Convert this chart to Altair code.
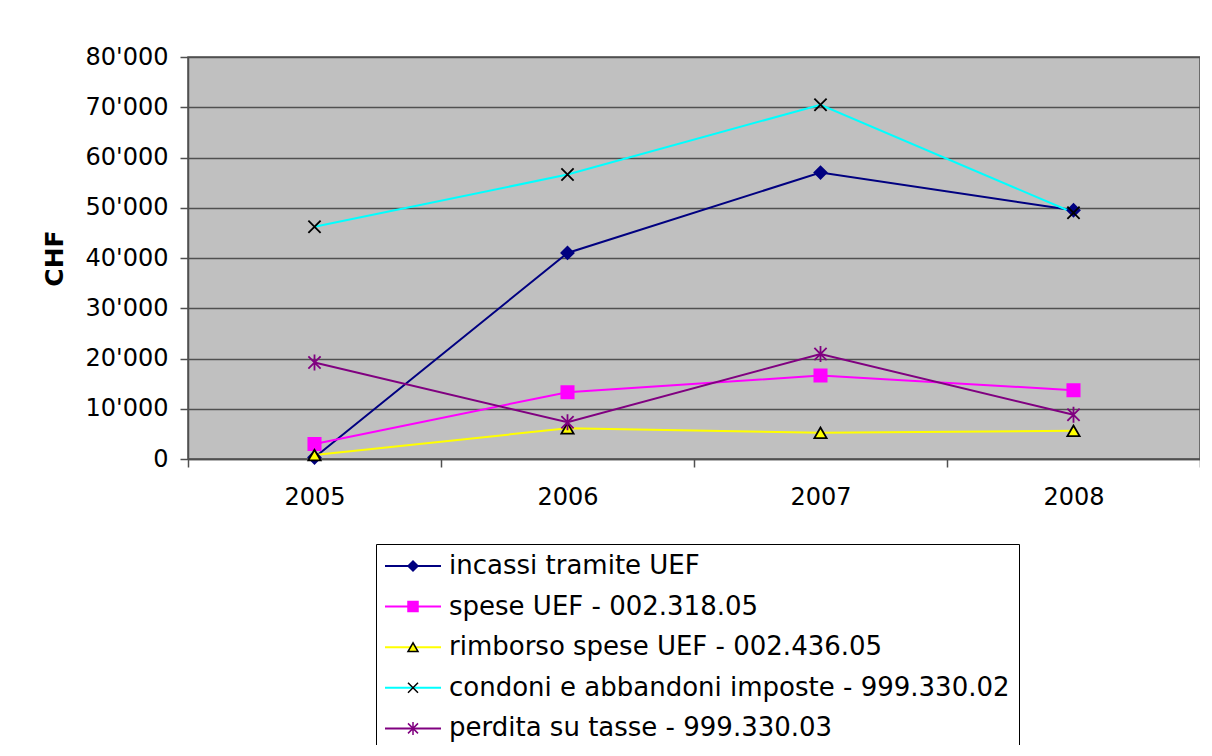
import altair as alt
import pandas as pd

years = ["2005", "2006", "2007", "2008"]
series_names = [
    "incassi tramite UEF",
    "spese UEF - 002.318.05",
    "rimborso spese UEF - 002.436.05",
    "condoni e abbandoni imposte - 999.330.02",
    "perdita su tasse - 999.330.03",
]
incassi = [300, 41000, 57000, 49500]
spese = [3000, 13300, 16600, 13700]
rimborso = [800, 6100, 5200, 5600]
condoni = [46200, 56600, 70500, 49000]
perdita = [19200, 7300, 20900, 8800]

line_colors = ["#000080", "#FF00FF", "#FFFF00", "#00FFFF", "#800080"]
marker_fill = ["#000080", "#FF00FF", "#FFFF00", "transparent", "transparent"]
marker_stroke = ["#000080", "#FF00FF", "#000000", "#000000", "#800080"]
marker_shapes = [
    "diamond",
    "square",
    "triangle-up",
    "M-1,-1L1,1M-1,1L1,-1",
    "M-1,-1L1,1M-1,1L1,-1M0,-1.3L0,1.3",
]

rows = []
for name, vals in zip(series_names, [incassi, spese, rimborso, condoni, perdita]):
    for y, v in zip(years, vals):
        rows.append({"year": y, "value": v, "series": name, "marker": name})
df = pd.DataFrame(rows)

FONT = "DejaVu Sans"
GRID = "#505050"

x_enc = alt.X(
    "year:O",
    bandPosition=0.5,
    scale=alt.Scale(type="band", paddingInner=0, paddingOuter=0, domain=years),
    axis=alt.Axis(
        title=None, labelAngle=0, tickBand="extent", grid=False,
        labelFont=FONT, labelFontSize=24, labelColor="black", labelPadding=18,
        tickSize=8, tickColor=GRID, tickWidth=1.5, domainColor=GRID, domainWidth=1.5,
    ),
)
y_enc = alt.Y(
    "value:Q",
    scale=alt.Scale(domain=[0, 80000], nice=False),
    axis=alt.Axis(
        title="CHF", values=list(range(0, 80001, 10000)),
        labelExpr="replace(format(datum.value, ','), ',', \"'\")",
        labelFont=FONT, labelFontSize=24, labelColor="black", labelPadding=12,
        titleFont=FONT, titleFontSize=25, titleFontWeight="bold", titleColor="black",
        titlePadding=18,
        tickSize=8, tickColor=GRID, tickWidth=1.5, domainColor=GRID, domainWidth=1.5,
        grid=True, gridColor=GRID, gridWidth=1.5, gridOpacity=1,
    ),
)

LEG_X = 188
LEG_Y = 487
common_leg = dict(
    orient="none", legendX=LEG_X, legendY=LEG_Y, padding=9,
    symbolSize=100, symbolOffset=15, labelOffset=23,
    labelFont=FONT, labelFontSize=26, rowPadding=14.6, labelLimit=800,
)

leg_lines = alt.Legend(
    symbolType="M-5.6,0H5.6", symbolStrokeWidth=2, labelColor="transparent",
    **common_leg,
)
leg_marks = alt.Legend(
    symbolStrokeWidth=1.5, symbolOpacity=1, labelColor="black",
    strokeColor="black", zindex=2, **common_leg,
)

lines = alt.Chart(df).mark_line(strokeWidth=2).encode(
    x=x_enc,
    y=y_enc,
    color=alt.Color("series:N", title=None,
                    scale=alt.Scale(domain=series_names, range=line_colors),
                    legend=leg_lines),
    detail="series:N",
)

points = alt.Chart(df).mark_point(size=150, opacity=1, strokeWidth=1.8).encode(
    x=x_enc,
    y=y_enc,
    shape=alt.Shape("marker:N", title=None,
                    scale=alt.Scale(domain=series_names, range=marker_shapes),
                    legend=leg_marks),
    fill=alt.Fill("marker:N", title=None,
                  scale=alt.Scale(domain=series_names, range=marker_fill),
                  legend=leg_marks),
    stroke=alt.Stroke("marker:N", title=None,
                      scale=alt.Scale(domain=series_names, range=marker_stroke),
                      legend=leg_marks),
)

chart = alt.layer(lines, points).properties(
    width=1012,
    height=402,
    autosize=alt.AutoSizeParams(type="none"),
    padding={"left": 180, "top": 49, "right": 0, "bottom": 286},
    background="white",
).configure_view(
    fill="#C0C0C0", stroke=GRID, strokeWidth=1.5,
).resolve_scale(color="independent")

chart.save("out.html", embed_options={"renderer": "svg", "actions": False})
